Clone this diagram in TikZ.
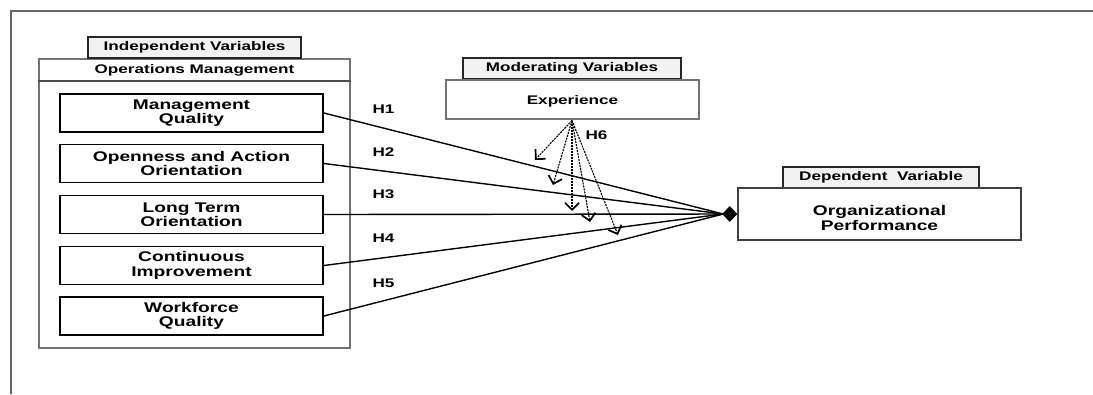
\documentclass[tikz,border=0pt]{standalone}
\usepackage{fontspec}
\newfontfamily\hv{Liberation Sans}[FakeStretch=1.37]
\usetikzlibrary{arrows.meta}
\begin{document}
\begin{tikzpicture}[x=1pt,y=-1pt,
  bigfont/.style={font=\hv\bfseries\fontsize{14}{14.5}\selectfont},
  smallfont/.style={font=\hv\bfseries\fontsize{12.5}{13}\selectfont},
  tabbox/.style={draw=black!85, line width=1.2pt, fill=black!5, smallfont, inner sep=0pt, anchor=center},
  varbox/.style={draw=black, line width=1.8pt, fill=white, bigfont, align=center, inner sep=0pt, minimum width=263pt, minimum height=38pt},
  groupbox/.style={draw=black!55, line width=1.3pt, fill=white, inner sep=0pt},
  hlink/.style={line width=1.4pt, black},
  hlabel/.style={smallfont, inner sep=0pt},
  modarrow/.style={line width=1.1pt, dash pattern=on 2pt off 1pt, -{Straight Barb[length=7pt,width=14pt,line width=1.7pt]}},
  frameline/.style={line width=2.2pt, black!60}
]
\useasboundingbox (0,0) rectangle (1093,394);
% frame
\coordinate (fa) at (11,394);
\coordinate (fb) at (11,11);
\coordinate (fc) at (1093,11);
\draw[frameline] (fa) -- (fb) -- (fc);

% independent group
\node[groupbox, minimum width=311pt, minimum height=289pt] (ops) at (194.5,203.5) {};
\node[tabbox, minimum width=213pt, minimum height=21pt] (indtab) at (194.5,47.5) {Independent Variables};
\node[smallfont, inner sep=0pt] (opshead) at (194.5,70) {Operations Management};
\draw[black!70, line width=1.3pt] (ops.west |- 0,81) -- (ops.east |- 0,81);

\node[varbox] (b1) at (191.5,113) {Management\\Quality};
\node[varbox] (b2) at (191.5,163.5) {Openness and Action\\Orientation};
\node[varbox] (b3) at (191.5,214.5) {Long Term\\Orientation};
\node[varbox] (b4) at (191.5,265.5) {Continuous\\Improvement};
\node[varbox] (b5) at (191.5,316) {Workforce\\Quality};

% moderating
\node[tabbox, minimum width=218pt, minimum height=21pt] (modtab) at (572,68.5) {Moderating Variables};
\node[groupbox, minimum width=253pt, minimum height=39pt] (exp) at (572.5,99.5) {};
\node[smallfont, inner sep=0pt] (exptext) at (572.5,101.5) {Experience};

% dependent
\node[tabbox, minimum width=196pt, minimum height=21pt] (deptab) at (881,177.5) {Dependent\ \ Variable};
\node[draw=black!75, line width=1.5pt, fill=white, inner sep=0pt, minimum width=283pt, minimum height=52pt] (org) at (879.5,214) {};
\node[bigfont, align=center, inner sep=0pt] (orgtext) at (879.5,218) {Organizational\\Performance};

% hypotheses links
\coordinate (conv) at ([xshift=-14pt]org.west);
\draw[hlink] (b1.east) -- (conv);
\draw[hlink] (b2.east) -- (conv);
\draw[hlink] (b4.east) -- (conv);
\draw[hlink] (b5.east) -- (conv);
\draw[hlink, -{Diamond[length=15pt,width=16pt]}] (b3.east) -- (org.west);

\node[hlabel] (h1) at (383.5,109) {H1};
\node[hlabel] (h2) at (383.5,152.5) {H2};
\node[hlabel] (h3) at (383.5,194) {H3};
\node[hlabel] (h4) at (383.5,238.5) {H4};
\node[hlabel] (h5) at (383.5,283) {H5};
\node[hlabel] (h6) at (596.5,135) {H6};

% moderating arrows
\coordinate (src) at (572,120.5);
\coordinate (t1) at (535,160);
\coordinate (t2) at (553,185);
\coordinate (t3) at (572,211);
\coordinate (t4) at (590,222);
\coordinate (t5) at (618,235);
\draw[modarrow] (src) -- (t1);
\draw[modarrow] (src) -- (t2);
\draw[modarrow] (src) -- (t3);
\draw[modarrow] (src) -- (t4);
\draw[modarrow] (src) -- (t5);
\end{tikzpicture}
\end{document}
